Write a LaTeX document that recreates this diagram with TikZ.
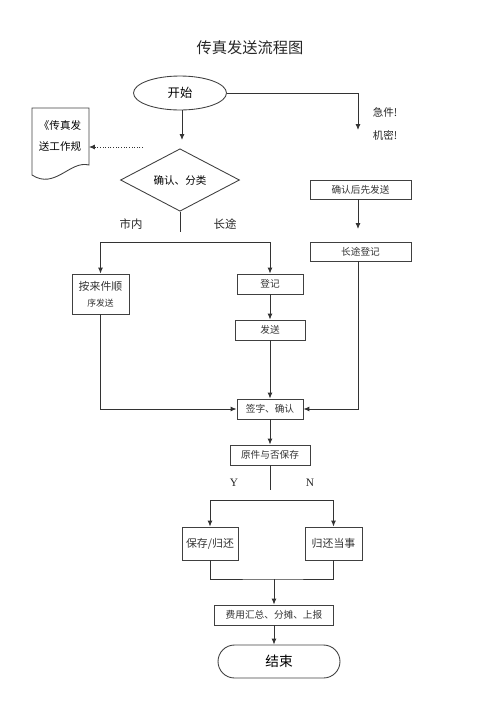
\documentclass[tikz,border=0pt]{standalone}
\usepackage{fontspec}
\setmainfont{Noto Sans CJK SC}
\newfontfamily\latinserif{Liberation Serif}
\usepackage{tikz}
\usetikzlibrary{shapes,arrows.meta}
\newcommand{\fs}[1]{\fontsize{#1}{#1}\selectfont}
\newcommand{\stepnode}{\node[rectangle,draw=black!75,inner sep=0pt,text=black!80,font=\fs{5.5}]}
\newcommand{\bignode}{\node[rectangle,draw=black!75,inner sep=0pt,text=black!80,font=\fs{6.2}]}
\newcommand{\txtnode}{\node[inner sep=0pt,text=black!85,font=\fs{6.5}]}

\begin{document}
\begin{tikzpicture}[x=0.02cm,y=-0.02cm,>={Latex[length=1.2mm,width=1mm]},line width=0.5pt,draw=black!80]
      \useasboundingbox (0,0) rectangle (500,707);
      \txtnode (title) at (250,48) {\fs{8.7}传真发送流程图};
      \node[ellipse,draw=black!75,minimum width=1.86cm,minimum height=0.68cm,inner sep=0pt,font=\fs{7}] (start) at (180,93) {开始};
      \node[diamond,draw=black!75,minimum width=2.38cm,minimum height=0.78cm,inner sep=0pt,font=\fs{6}] (sort) at (180,180) {确认、分类};
      \node[minimum width=1.14cm,minimum height=1.2cm,inner sep=0pt,align=center,font=\fs{6}] (doc) at (60,136) {《传真发\\[6pt]送工作规};
      \draw[black!75] (32,108) -- (89,108) -- (89,165) .. controls (70,160) and (55,190) .. (32,175) -- cycle; % document
      \txtnode (urgent) at (385,112) {\fs{6}急件!};
      \txtnode (secret) at (385,135) {\fs{6}机密!};
      \stepnode (conf) [minimum width=2.02cm,minimum height=0.38cm] at (360.5,189.5) {确认后先发送};
      \stepnode (ldreg) [minimum width=2.02cm,minimum height=0.38cm] at (360.5,251.5) {长途登记};
      \txtnode (city) at (131,224) {市内};
      \txtnode (long) at (225,224) {长途};
      \bignode (kb) [minimum width=1.14cm,minimum height=0.8cm,align=center] at (100.5,294) {按来件顺\\[3pt]{\fs{5}序发送}};
      \stepnode (reg) [minimum width=1.32cm,minimum height=0.4cm] at (270,284) {登记};
      \stepnode (send) [minimum width=1.4cm,minimum height=0.4cm] at (270,330) {发送};
      \stepnode (sign) [minimum width=1.32cm,minimum height=0.4cm] at (270,409) {签字、确认};
      \stepnode (orig) [minimum width=1.6cm,minimum height=0.4cm] at (270,455) {原件与否保存};
      \txtnode (yes) at (234,483) {\latinserif Y};
      \txtnode (no) at (310,483) {\latinserif N};
      \bignode (keep) [minimum width=1.12cm,minimum height=0.66cm] at (210,543.5) {保存/归还};
      \bignode (ret) [minimum width=1.14cm,minimum height=0.66cm] at (333.5,543.5) {归还当事};
      \stepnode (fee) [minimum width=2.38cm,minimum height=0.4cm] at (274,615) {费用汇总、分摊、上报};
      \node[rectangle,rounded corners=0.33cm,draw=black!75,minimum width=2.44cm,minimum height=0.66cm,font=\fs{7.8}] (endn) at (279,661.5) {结束};
      \coordinate (a1) at (182,140);
      \coordinate (a2) at (358,130);
      \coordinate (a3) at (358,229);
      \coordinate (dsrc) at (143,147);
      \coordinate (cut1) at (180,232);
      \coordinate (split1) at (184,242);
      \coordinate (cut2) at (270,490);
      \coordinate (split2) at (272,500);
      \coordinate (join) at (274,579);
      \draw[->] (start.south -| a1) -- (a1);
      \draw[->] (start.east) -| (a2);
      \draw[->,densely dotted] (dsrc) -- (dsrc -| doc.east);
      \draw[->] (conf.south -| a3) -- (a3);
      \draw (sort.south) -- (cut1);
      \draw[->] (split1) -| (kb.north);
      \draw[->] (split1) -| (reg.north);
      \draw[->] (reg) -- (send);
      \draw[->] (send) -- (sign);
      \draw[->] (kb.south) |- (sign.west);
      \draw[->] (ldreg.south -| a3) |- (sign.east);
      \draw[->] (sign) -- (orig);
      \draw (orig.south) -- (cut2);
      \draw[->] (split2) -| (keep.north);
      \draw[->] (split2) -| (ret.north);
      \draw (keep.south) |- (join) -| (ret.south);
      \draw[->] (join) -- (fee.north);
      \draw[->] (fee.south) -- (fee.south |- endn.north);
    \end{tikzpicture}
\end{document}
